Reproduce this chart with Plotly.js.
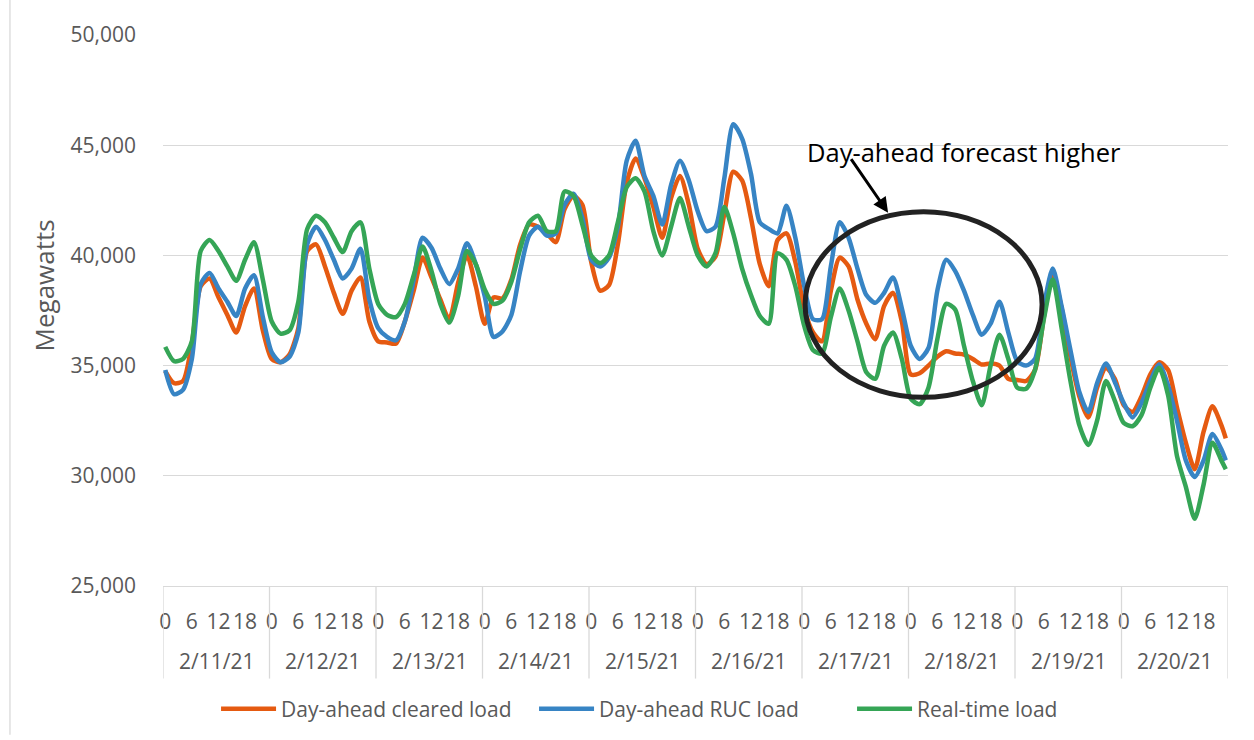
<!DOCTYPE html>
<html>
<head>
<meta charset="utf-8">
<script src="https://cdn.plot.ly/plotly-3.0.1.min.js"></script>
<style>html,body{margin:0;padding:0;background:#fff;}#chart{width:1254px;height:740px;}</style>
</head>
<body>
<div id="chart"></div>
<script>
// Days shown on the category axis
const days = ['2/11/21','2/12/21','2/13/21','2/14/21','2/15/21','2/16/21','2/17/21','2/18/21','2/19/21','2/20/21'];
// Hour tick labels inside each day
const hourLabels = ['0','6','12','18'];
const hourLabelValues = [0, 6, 12, 18];

// Series values read every 2 hours (hour 0,2,...,238) plus the final hour 239
const dayAheadCleared = [
  34750,34200,34300,36000,38600,38950,38100,37300,36500,37700,38500,36600,
  35300,35150,35500,36700,40200,40500,39500,38300,37350,38400,39000,37000,
  36100,36050,36000,37000,38400,39900,39000,38000,37100,38750,40000,38600,
  36900,38100,38050,38900,40500,41400,41300,41000,40600,42100,42700,42300,
  39700,38400,38650,40500,43300,44400,43500,42200,40800,42600,43600,42300,
  40300,39600,39950,41900,43800,43400,41700,39600,38600,40700,41000,39700,
  37600,36500,36100,38400,39900,39500,38000,36900,36200,37700,38300,37000,
  34600,34650,35000,35400,35650,35550,35500,35300,35050,35100,35000,34400,
  34350,34300,34800,37200,39200,37600,35400,33600,32650,34000,34900,34400,
  33200,32900,33600,34600,35150,34800,33100,31500,30300,32000,33150,32300,
  31700
];
const dayAheadRUC = [
  34800,33700,33900,35300,38700,39200,38500,37900,37250,38500,39100,37200,
  35600,35150,35400,36500,40500,41300,40700,39800,38950,39400,40300,38000,
  36700,36300,36150,37000,38900,40800,40350,39400,38700,39400,40550,39600,
  38150,36300,36550,37300,39300,40900,41300,40900,41000,42300,42800,41700,
  39800,39500,39900,41300,44300,45200,43600,42700,41400,43200,44300,43400,
  42000,41100,41300,43500,45950,45300,43700,41500,41200,41000,42250,40800,
  38600,37100,37100,39500,41500,40800,39400,38200,37850,38300,39000,37600,
  35900,35300,35800,38400,39800,39300,38400,37300,36400,36900,37900,36500,
  35200,35000,35300,37700,39400,37700,35700,33800,32900,34200,35100,34250,
  33300,32650,33300,34300,35050,34100,32500,30700,29950,30700,31900,31200,
  30700
];
const realTime = [
  35850,35200,35300,36100,40200,40700,40200,39500,38850,39800,40600,38900,
  37000,36450,36600,37900,41200,41800,41500,40800,40150,41100,41500,39400,
  37800,37300,37200,37800,39100,40400,39300,37800,36950,38150,40200,39600,
  38450,37800,37950,38800,40300,41500,41800,41100,41100,42900,42700,41400,
  40000,39650,40000,41500,43100,43500,42900,41100,40000,41300,42600,41300,
  40000,39500,40100,42200,41000,39400,38200,37250,36900,40100,39800,38600,
  36800,35700,35550,37200,38500,37500,36100,34700,34400,35900,36500,35300,
  33500,33250,34000,36200,37800,37550,35900,34300,33200,35000,36400,35300,
  34000,33950,34800,37100,38900,36700,34300,32300,31400,32500,34300,33400,
  32400,32250,32750,34000,34900,33650,30900,29500,28050,29600,31500,30700,
  30300
];

// hour index of each reading
const hourIndex = [];
for (let k = 0; k < 120; k++) hourIndex.push(2 * k);
hourIndex.push(239);

const tickVals = [], tickText = [];
days.forEach((d, di) => hourLabelValues.forEach((h, hi) => { tickVals.push(di * 24 + h); tickText.push(hourLabels[hi]); }));

const FONT = 'Open Sans, Noto Sans, sans-serif';
const GREY = '#595959';
const GRID = '#d9d9d9';

function line(name, y, color) {
  return { type: 'scatter', mode: 'lines', name: name, x: hourIndex, y: y,
    line: { color: color, width: 4.5, shape: 'spline', smoothing: 0.7 } };
}
const traces = [
  line('Day-ahead cleared load', dayAheadCleared, '#E55A11'),
  line('Day-ahead RUC load', dayAheadRUC, '#3784C4'),
  line('Real-time load', realTime, '#35A556')
];

const shapes = [];
for (let d = 0; d <= days.length; d++) {
  shapes.push({ type: 'line', xref: 'x', yref: 'paper', x0: d * 24 - 0.5, x1: d * 24 - 0.5, y0: 0, y1: -0.168,
    line: { color: GRID, width: 1.3 } });
}
// highlight ellipse
shapes.push({ type: 'circle', xref: 'x', yref: 'y', x0: 144.2, x1: 197.6, y0: 33560, y1: 41984,
  line: { color: '#222', width: 5 } });
// chart border at left
shapes.push({ type: 'line', xref: 'paper', yref: 'paper', x0: -0.1437, x1: -0.1437, y0: -0.27, y1: 1.07,
  line: { color: GRID, width: 1.3 } });

const annotations = days.map((d, di) => ({ xref: 'x', yref: 'paper', x: di * 24 + 11.5, y: -0.136,
  text: d, showarrow: false, xanchor: 'center', yanchor: 'middle', font: { family: FONT, size: 21, color: GREY } }));
annotations.push({ xref: 'x', yref: 'y', x: 144.2, y: 44700, xanchor: 'left', yanchor: 'middle',
  text: 'Day-ahead forecast higher', showarrow: false, font: { family: FONT, size: 25.5, color: '#000' } });
annotations.push({ xref: 'x', yref: 'y', x: 162.9, y: 41938, text: '', showarrow: true,
  ax: -38, ay: -55, arrowhead: 2, arrowsize: 1, arrowwidth: 3, arrowcolor: '#000' });
annotations.push({ xref: 'paper', yref: 'paper', x: -0.112, y: 0.545, text: 'Megawatts', textangle: -90,
  showarrow: false, xanchor: 'center', yanchor: 'middle', font: { family: FONT, size: 26, color: GREY } });

const layout = {
  width: 1254, height: 740,
  margin: { l: 163, r: 26, t: 35, b: 153 },
  paper_bgcolor: '#fff', plot_bgcolor: '#fff',
  font: { family: FONT, color: GREY },
  showlegend: true,
  legend: { orientation: 'h', x: 0.4977, xanchor: 'center', y: -0.221, yanchor: 'middle',
    entrywidth: 248, entrywidthmode: 'pixels', itemwidth: 55,
    font: { family: FONT, size: 21, color: GREY }, bgcolor: 'rgba(0,0,0,0)' },
  xaxis: { range: [-0.5, 239.5], tickmode: 'array', tickvals: tickVals, ticktext: tickText,
    showgrid: false, zeroline: false, showline: true, linecolor: GRID, linewidth: 1.3,
    ticks: '', ticklabelstandoff: 16, tickangle: 0, tickfont: { family: FONT, size: 21, color: GREY } },
  yaxis: { range: [25000, 50000], tick0: 25000, dtick: 5000, tickformat: ',d',
    showgrid: true, gridcolor: GRID, gridwidth: 1.3, zeroline: false, showline: false,
    ticks: '', ticklabelstandoff: 26, tickfont: { family: FONT, size: 21, color: GREY } },
  shapes: shapes,
  annotations: annotations
};

Plotly.newPlot('chart', traces, layout, { displayModeBar: false, staticPlot: true });
</script>
</body>
</html>
